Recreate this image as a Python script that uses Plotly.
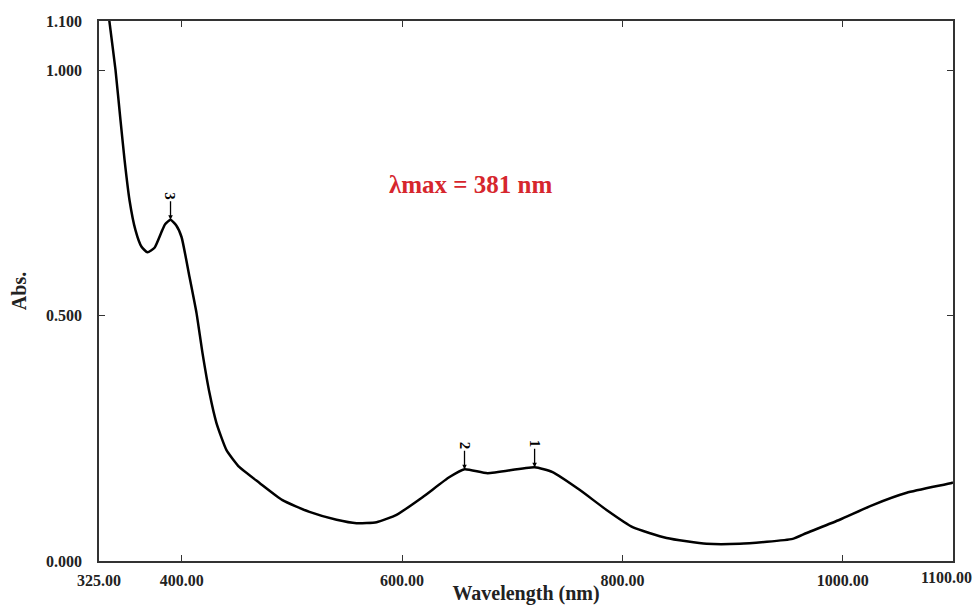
import plotly.graph_objects as go

# Spectrum data
wavelength = [333, 334.5, 340.0, 344.5, 348.2, 352.7, 358.1, 363.6, 369.0, 375.4, 381.7, 385.0, 389.9,
              395.0, 399.9, 407.1, 413.5, 418.9, 425.3, 431.6, 440.7, 452.5, 470.7, 491.5, 516.0,
              540.6, 558.7, 576.9, 595.0, 618.6, 643.1, 656.7, 677.6, 720.3, 736.6, 761.1,
              785.6, 809.2, 840.1, 876.4, 906.4, 954.5, 967.2, 997.1, 1027.1, 1058.0, 1098.8, 1100]
absorbance = [1.13, 1.098, 1.000, 0.898, 0.817, 0.735, 0.674, 0.640, 0.629, 0.638, 0.670, 0.686, 0.695,
              0.684, 0.660, 0.579, 0.505, 0.424, 0.342, 0.281, 0.226, 0.191, 0.159, 0.124, 0.100,
              0.084, 0.077, 0.079, 0.094, 0.130, 0.171, 0.187, 0.179, 0.191, 0.181, 0.145,
              0.104, 0.069, 0.047, 0.035, 0.035, 0.045, 0.057, 0.084, 0.114, 0.139, 0.159, 0.160]

peak_labels = ["3", "2", "1"]
peak_x = [389.9, 656.7, 720.3]
peak_y = [0.695, 0.187, 0.191]

x_tickvals = [325, 400, 600, 800, 1000]
x_ticktext = ["325.00", "400.00", "600.00", "800.00", "1000.00"]
x_last_tick = 1100
x_last_text = "1100.00"
y_tickvals = [0.0, 0.5, 1.0, 1.1]
y_ticktext = ["0.000", "0.500", "1.000", "1.100"]

annotation_text = "λmax = 381 nm"

serif = "Liberation Serif, Times New Roman, serif"
ink = "#222222"

fig = go.Figure()
fig.add_trace(go.Scatter(x=wavelength, y=absorbance, mode="lines",
                         line=dict(color="black", width=2.5, shape="spline", smoothing=0.5),
                         showlegend=False, hoverinfo="skip"))

for lab, px, py in zip(peak_labels, peak_x, peak_y):
    fig.add_annotation(x=px, y=py, xref="x", yref="y", text="<b>" + lab + "</b>",
                       textangle=90, showarrow=True, arrowhead=2, arrowsize=0.7,
                       arrowwidth=1.3, arrowcolor="black", ax=0, ay=-24,
                       font=dict(family=serif, size=15, color="black"))

fig.add_annotation(x=663, y=0.766, xref="x", yref="y", text="<b>" + annotation_text + "</b>",
                   showarrow=False, font=dict(family=serif, size=25, color="#d6262d"))

# last x tick label, kept inside the page like the reference
fig.add_annotation(x=x_last_tick, y=0, xref="x", yref="paper", text=x_last_text,
                   showarrow=False, xanchor="right", yanchor="top", xshift=21, yshift=-6,
                   font=dict(family=serif, size=16, color=ink, weight="bold"))

axis_common = dict(showline=True, linecolor="#333333", linewidth=1.5, mirror="ticks",
                   ticks="inside", ticklen=6, tickcolor="#333333", tickwidth=1.2,
                   showgrid=False, zeroline=False, automargin=False,
                   tickfont=dict(family=serif, size=16, color=ink, weight="bold"))

fig.update_xaxes(range=[325, 1100], tickvals=x_tickvals, ticktext=x_ticktext,
                 ticklabelstandoff=4,
                 title=dict(text="<b>Wavelength (nm)</b>", standoff=8,
                            font=dict(family=serif, size=20, color=ink)),
                 **axis_common)
fig.update_yaxes(range=[0, 1.1], tickvals=y_tickvals, ticktext=y_ticktext,
                 ticklabelstandoff=12,
                 title=dict(text="<b>Abs.</b>", standoff=14,
                            font=dict(family=serif, size=20, color=ink)),
                 **axis_common)

fig.update_layout(width=976, height=605, plot_bgcolor="white", paper_bgcolor="white",
                  margin=dict(l=99, r=23, t=21, b=44))

fig.write_html("out.html")
